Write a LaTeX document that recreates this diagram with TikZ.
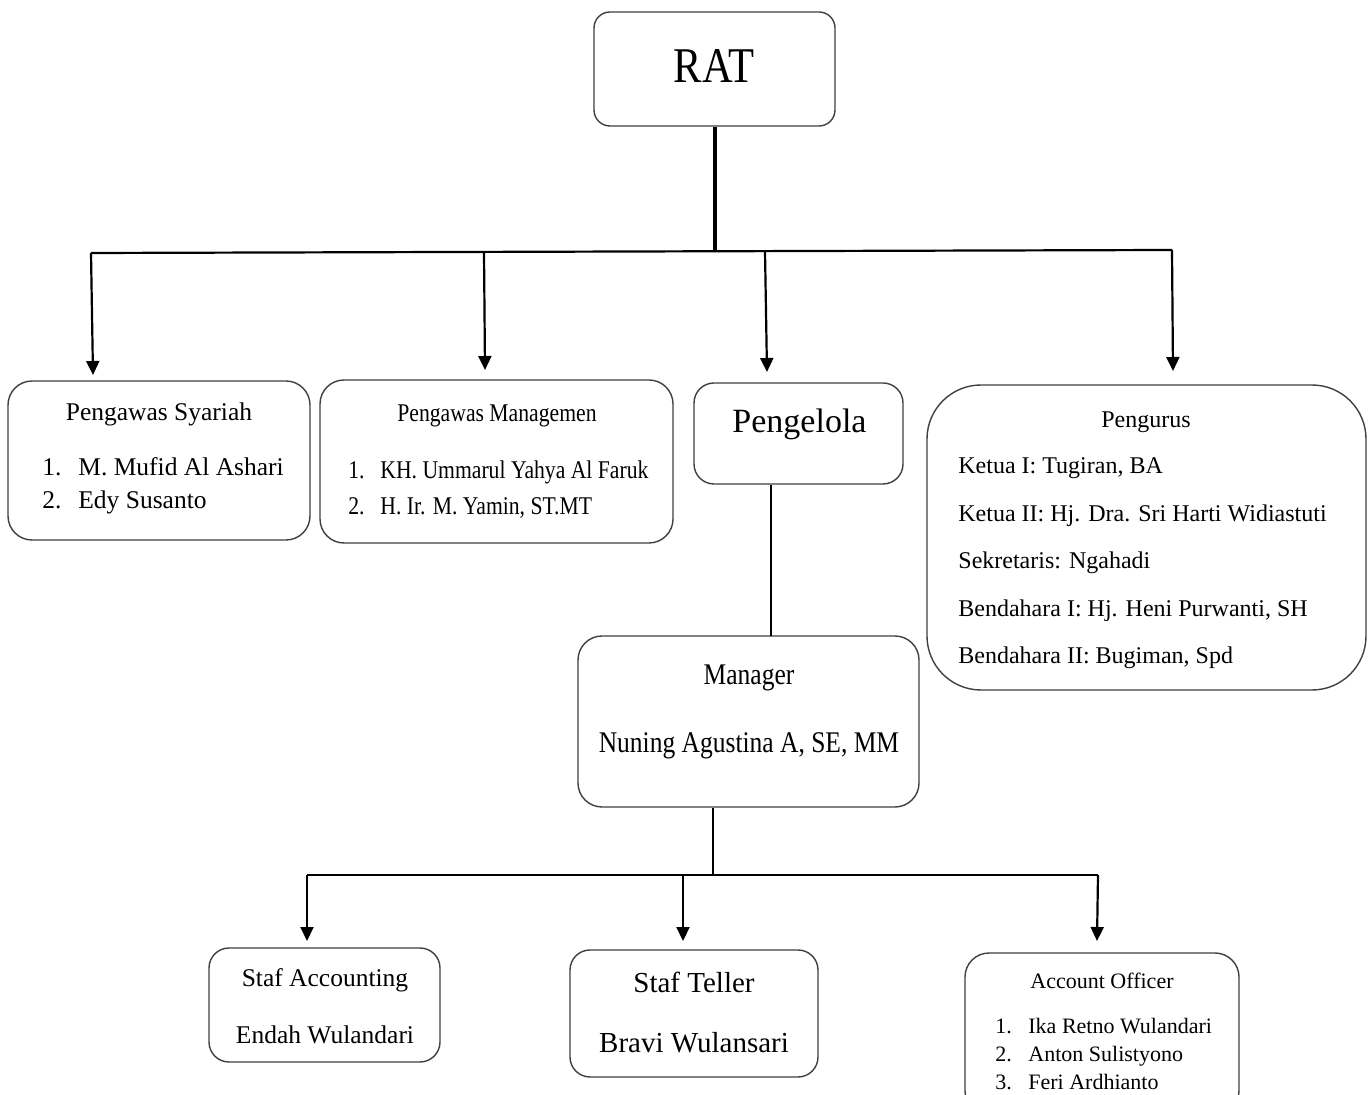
\documentclass[tikz,border=0pt]{standalone}
\usepackage{fontspec}
\setmainfont{Liberation Serif}
\newfontfamily\narrowserif[FakeStretch=0.85]{Liberation Serif}
\usetikzlibrary{arrows.meta}

\tikzset{
  box/.style={draw=black!75,line width=0.7pt,inner sep=0pt},
  link/.style={line width=1.1pt},
  arr/.style={line width=1.1pt,-{Triangle[length=7pt,width=6.5pt]}},
  txt/.style={inner sep=0pt,anchor=base},
  item/.style={inner sep=0pt,anchor=base west},
  fnormal/.style={font=\fontsize{12.75}{15}\selectfont},
  fnarrow/.style={font=\narrowserif\fontsize{12.75}{15}\selectfont},
}

\begin{document}
\begin{tikzpicture}[x=0.5pt,y=-0.5pt]
  \fill[white] (0,0) rectangle (1371,1095);
  \useasboundingbox (0,0) rectangle (1371,1095);

  % top
  \node[box,rounded corners=8pt,minimum width=120.5pt,minimum height=57pt] (rat) at (714.5,69) {};
  \node[txt,font=\narrowserif\fontsize{25}{30}\selectfont] (ratlbl) at (714,83) {RAT};

  % second row
  \node[box,rounded corners=12pt,minimum width=151pt,minimum height=79.5pt] (syariah) at (159,460.5) {};
  \node[txt,fnormal] (syariahlbl) at (159,421) {Pengawas Syariah};
  \node[item,fnormal] (s1n) at (42,476) {1.};
  \node[item,fnormal] (s1) at (78,476) {M. Mufid Al Ashari};
  \node[item,fnormal] (s2n) at (42,509) {2.};
  \node[item,fnormal] (s2) at (78,509) {Edy Susanto};

  \node[box,rounded corners=12pt,minimum width=176.5pt,minimum height=81.5pt] (managemen) at (496.5,461.5) {};
  \node[txt,fnarrow] (managemenlbl) at (497,422) {Pengawas Managemen};
  \node[item,fnarrow] (m1n) at (348,479) {1.};
  \node[item,fnarrow] (m1) at (380,479) {KH. Ummarul Yahya Al Faruk};
  \node[item,fnarrow] (m2n) at (348,515) {2.};
  \node[item,fnarrow] (m2) at (380,515) {H. Ir. M. Yamin, ST.MT};

  \node[box,rounded corners=10pt,minimum width=104.5pt,minimum height=50.5pt] (pengelola) at (798.5,433.5) {};
  \node[txt,font=\fontsize{17}{20}\selectfont] (pengelolalbl) at (799.5,433) {Pengelola};

  \node[box,rounded corners=27pt,minimum width=219.5pt,minimum height=152.5pt] (pengurus) at (1146.5,537.5) {};
  \node[txt,font=\fontsize{12}{14}\selectfont] (penguruslbl) at (1146,428) {Pengurus};
  \node[item,font=\fontsize{12}{14}\selectfont] (k1) at (958,474) {Ketua I: Tugiran, BA};
  \node[item,font=\fontsize{12}{14}\selectfont] (k2) at (958,522) {Ketua II: Hj. Dra. Sri Harti Widiastuti};
  \node[item,font=\fontsize{12}{14}\selectfont] (k3) at (958,569) {Sekretaris: Ngahadi};
  \node[item,font=\fontsize{12}{14}\selectfont] (k4) at (958,617) {Bendahara I: Hj. Heni Purwanti, SH};
  \node[item,font=\fontsize{12}{14}\selectfont] (k5) at (958,664) {Bendahara II: Bugiman, Spd};

  % manager
  \node[box,rounded corners=12pt,minimum width=170.5pt,minimum height=85.5pt] (manager) at (748.5,721.5) {};
  \node[txt,font=\narrowserif\fontsize{15}{18}\selectfont] (managerlbl) at (749,685) {Manager};
  \node[txt,font=\narrowserif\fontsize{15}{18}\selectfont] (managername) at (749,753) {Nuning Agustina A, SE, MM};

  % bottom row
  \node[box,rounded corners=10pt,minimum width=115.5pt,minimum height=57pt] (accounting) at (324.5,1005) {};
  \node[txt,fnormal] (accountinglbl) at (325,986) {Staf Accounting};
  \node[txt,fnormal] (accountingname) at (325,1043) {Endah Wulandari};

  \node[box,rounded corners=10pt,minimum width=124pt,minimum height=63.5pt] (teller) at (694,1013.5) {};
  \node[txt,font=\fontsize{14.5}{17}\selectfont] (tellerlbl) at (694,992) {Staf Teller};
  \node[txt,font=\fontsize{14.5}{17}\selectfont] (tellername) at (694,1052) {Bravi Wulansari};

  \node[box,rounded corners=12pt,minimum width=137pt,minimum height=81pt] (officer) at (1102,1034) {};
  \node[txt,font=\fontsize{11}{13}\selectfont] (officerlbl) at (1102,988) {Account Officer};
  \node[item,font=\fontsize{11}{13}\selectfont] (o1n) at (995,1033) {1.};
  \node[item,font=\fontsize{11}{13}\selectfont] (o1) at (1028,1033) {Ika Retno Wulandari};
  \node[item,font=\fontsize{11}{13}\selectfont] (o2n) at (995,1061) {2.};
  \node[item,font=\fontsize{11}{13}\selectfont] (o2) at (1028,1061) {Anton Sulistyono};
  \node[item,font=\fontsize{11}{13}\selectfont] (o3n) at (995,1089) {3.};
  \node[item,font=\fontsize{11}{13}\selectfont] (o3) at (1028,1089) {Feri Ardhianto};

  % connectors
  \coordinate (j0) at (715,251);
  \coordinate (hl) at (91,253);
  \coordinate (hr) at (1172,250);
  \coordinate (d2) at (484,252);
  \coordinate (d3) at (765,251);
  \coordinate (e1) at (93,375);
  \coordinate (e2) at (485,370);
  \coordinate (e3) at (767,372);
  \coordinate (e4) at (1173,371);
  \draw[line width=1.6pt] (rat.south -| j0) -- (j0);
  \draw[link] (hl) -- (hr);
  \draw[arr] (hl) -- (e1);
  \draw[arr] (d2) -- (e2);
  \draw[arr] (d3) -- (e3);
  \draw[arr] (hr) -- (e4);

  \coordinate (mtop) at (771,636);
  \draw[link] (pengelola.south -| mtop) -- (mtop);

  \coordinate (j1) at (713,875);
  \coordinate (bl) at (307,875);
  \coordinate (bm) at (683,875);
  \coordinate (br) at (1098,875);
  \coordinate (f1) at (307,941);
  \coordinate (f2) at (683,941);
  \coordinate (f3) at (1097,941);
  \draw[line width=1.4pt] (manager.south -| j1) -- (j1);
  \draw[link] (bl) -- (br);
  \draw[arr] (bl) -- (f1);
  \draw[arr] (bm) -- (f2);
  \draw[arr] (br) -- (f3);
\end{tikzpicture}
\end{document}
